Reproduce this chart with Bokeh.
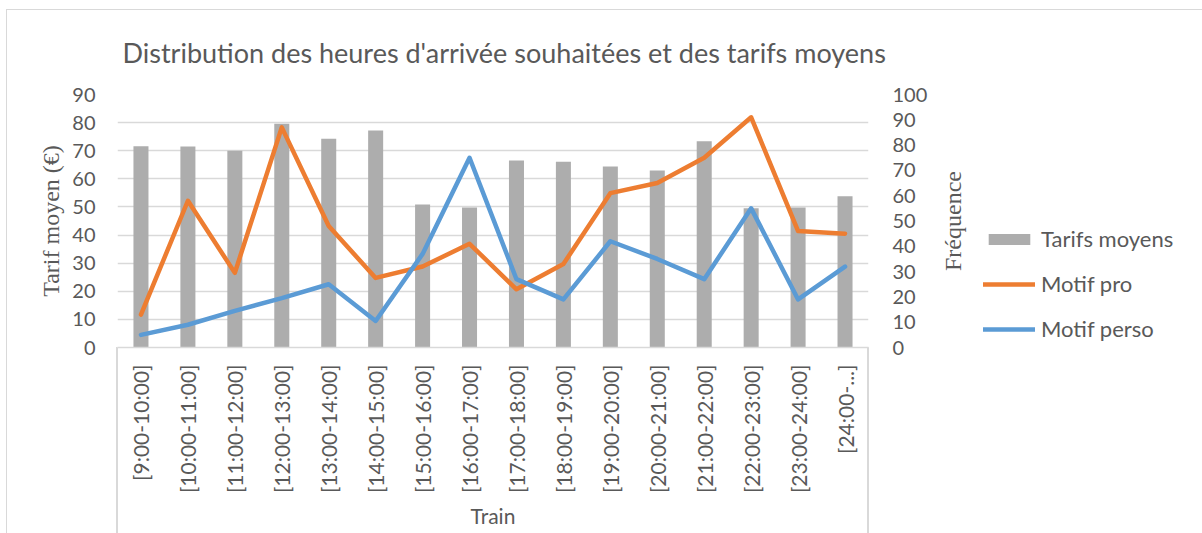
from bokeh.plotting import figure
from bokeh.layouts import row
from bokeh.models import (Range1d, LinearAxis, SingleIntervalTicker, Legend, LegendItem,
                          ColumnDataSource, Label)
from bokeh.embed import file_html
from bokeh.resources import INLINE
import math

categories = ["[9:00-10:00]", "[10:00-11:00]", "[11:00-12:00]", "[12:00-13:00]",
              "[13:00-14:00]", "[14:00-15:00]", "[15:00-16:00]", "[16:00-17:00]",
              "[17:00-18:00]", "[18:00-19:00]", "[19:00-20:00]", "[20:00-21:00]",
              "[21:00-22:00]", "[22:00-23:00]", "[23:00-24:00]", "[24:00-...]"]
tarifs_moyens = [71.6, 71.5, 70.0, 79.6, 74.3, 77.2, 50.9, 49.8,
                 66.5, 66.1, 64.4, 63.0, 73.4, 49.5, 49.8, 53.8]
motif_pro = [13, 58, 29.5, 87, 48, 27.5, 32, 41, 23, 33, 61, 65, 75, 91, 46, 45]
motif_perso = [5, 9, 14.5, 19.5, 25, 10.5, 37, 75, 27, 19, 42, 35, 27, 55, 19, 32]

series_names = ["Tarifs moyens", "Motif pro", "Motif perso"]
title_text = "Distribution des heures d'arrivée souhaitées et des tarifs moyens"
left_label = "Tarif moyen (€)"
right_label = "Fréquence"
x_label = "Train"

FONT = "Lato"
SERIF = "Liberation Serif"
TXT = "#595959"
GRID = "#D9D9D9"
BAR = dict(fill_color="#ADADAD", line_color=None)
PRO = dict(line_color="#ED7D31", line_width=4.5, line_join="round", line_cap="round")
PERSO = dict(line_color="#5B9BD5", line_width=4.5, line_join="round", line_cap="round")

W, H = 1202, 533
FL, FR, FT, FB = 117, 868, 94, 347   # edges of the plot area (px)
MAIN_W = 940                          # main figure width; legend panel to its right

src = ColumnDataSource(dict(cat=categories, tarif=tarifs_moyens, pro=motif_pro, perso=motif_perso))

p = figure(x_range=categories, y_range=Range1d(0, 90),
           width=MAIN_W, height=H, output_backend="svg", toolbar_location=None,
           min_border_left=FL, min_border_right=MAIN_W - FR, min_border_top=FT,
           min_border_bottom=H - FB)
p.extra_y_ranges = {"freq": Range1d(0, 100)}
p.outline_line_color = None
p.background_fill_color = "white"
p.border_fill_color = None

# title
p.title.text = title_text
p.title.text_font = FONT
p.title.text_font_size = "27px"
p.title.text_font_style = "normal"
p.title.text_color = TXT
p.title.align = "left"
p.title.offset = 5
p.title.standoff = 51

# bars and lines
bars = p.vbar(x="cat", top="tarif", width=0.32, source=src, **BAR)
lpro = p.line(x="cat", y="pro", source=src, y_range_name="freq", **PRO)
lperso = p.line(x="cat", y="perso", source=src, y_range_name="freq", **PERSO)

# grid
p.xgrid.grid_line_color = None
p.ygrid.grid_line_color = GRID
p.ygrid.grid_line_width = 1.5

# left axis
ya = p.yaxis[0]
ya.ticker = SingleIntervalTicker(interval=10)
ya.axis_line_color = None
ya.major_tick_line_color = None
ya.minor_tick_line_color = None
ya.major_label_text_font = FONT
ya.major_label_text_font_size = "20px"
ya.major_label_text_color = TXT
ya.major_label_standoff = 16
ya.axis_label = left_label
ya.axis_label_text_font = SERIF
ya.axis_label_text_font_size = "24px"
ya.axis_label_text_font_style = "normal"
ya.axis_label_text_color = TXT
ya.axis_label_standoff = 5

# right axis (its title is drawn in the side panel, reading upwards)
ra = LinearAxis(y_range_name="freq", ticker=SingleIntervalTicker(interval=10))
ra.axis_line_color = None
ra.major_tick_line_color = None
ra.minor_tick_line_color = None
ra.major_label_text_font = FONT
ra.major_label_text_font_size = "20px"
ra.major_label_text_color = TXT
ra.major_label_standoff = 18
p.add_layout(ra, "right")

# category axis
xa = p.xaxis[0]
xa.axis_line_color = GRID
xa.axis_line_width = 1.5
xa.major_tick_line_color = None
xa.minor_tick_line_color = None
xa.major_label_orientation = math.pi / 2
xa.major_label_text_font = FONT
xa.major_label_text_font_size = "21px"
xa.major_label_text_color = TXT
xa.major_label_standoff = 11
xa.axis_label = x_label
xa.axis_label_text_font = FONT
xa.axis_label_text_font_size = "21px"
xa.axis_label_text_font_style = "normal"
xa.axis_label_text_color = TXT
xa.axis_label_standoff = 7

# side panel: right-axis title and legend (its frame spans the same rows as the plot area)
side = figure(width=W - MAIN_W, height=H, x_range=Range1d(-2, -1), y_range=Range1d(-2, -1),
              output_backend="svg", toolbar_location=None,
              min_border_left=0, min_border_right=0, min_border_top=FT, min_border_bottom=H - FB)
side.axis.visible = False
side.grid.visible = False
side.outline_line_color = None
side.background_fill_color = None
side.border_fill_color = None

side.add_layout(Label(x=952 - MAIN_W, y=(FB - FT) / 2, x_units="screen", y_units="screen",
                      text=right_label, angle=math.pi / 2, text_align="center",
                      text_baseline="middle", text_font=SERIF, text_font_size="24px",
                      text_color=TXT))

# legend keys: same series, mapped outside this panel's ranges so only the keys show
kb = side.vbar(x="tarif", top="tarif", width=0.32, source=src, **BAR)
kp = side.line(x="pro", y="pro", source=src, **PRO)
kq = side.line(x="perso", y="perso", source=src, **PERSO)
legend = Legend(items=[LegendItem(label=series_names[0], renderers=[kb]),
                       LegendItem(label=series_names[1], renderers=[kp]),
                       LegendItem(label=series_names[2], renderers=[kq])],
                location=(983 - MAIN_W, FB - 342), padding=0, margin=0, spacing=18,
                glyph_width=52, glyph_height=14, label_height=26, label_standoff=6,
                border_line_alpha=0, background_fill_alpha=0,
                label_text_font=FONT, label_text_font_size="22px", label_text_color=TXT)
side.add_layout(legend)

layout = row(p, side)
# chart-area border and the category box lines (decoration)
line = "linear-gradient(#D9D9D9,#D9D9D9)"
layout.styles = {
    "background": (f"{line} 6px 9px / 1px 100% no-repeat, "
                   f"{line} 6px 9px / 100% 1px no-repeat, "
                   f"{line} {FL - 1}px {FB}px / 2px 200px no-repeat, "
                   f"{line} {FR - 1}px {FB}px / 2px 200px no-repeat, white"),
}

open("out.html", "w").write(file_html(layout, INLINE))
